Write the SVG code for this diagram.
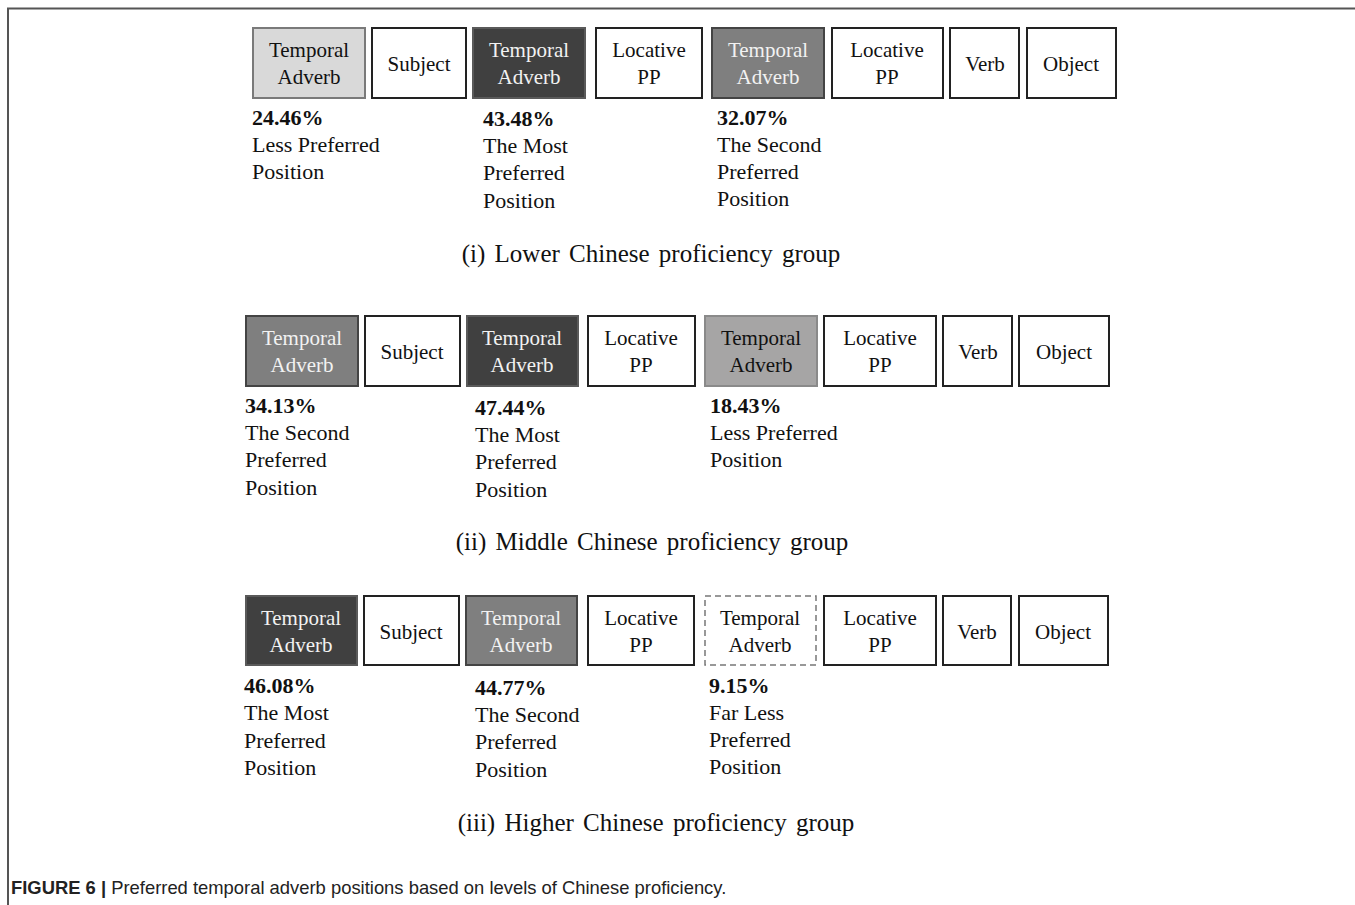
<svg xmlns="http://www.w3.org/2000/svg" width="1355" height="905" viewBox="0 0 1355 905">
<style>
.bx{fill:#fff;stroke:#222;stroke-width:2}
.lg{fill:#d9d9d9;stroke:#7a7a7a;stroke-width:2}
.mg{fill:#a6a5a5;stroke:#8a8a8a;stroke-width:2}
.gr{fill:#7f7f7f;stroke:#444;stroke-width:2}
.dk{fill:#404040;stroke:#5a5a5a;stroke-width:2}
.ds{fill:#fff;stroke:#777;stroke-width:1.5;stroke-dasharray:6 4}
text{font-family:"Liberation Serif","Times New Roman",serif;fill:#111}
.t{font-size:21px;text-anchor:middle}
.w{fill:#f2f2f2}
.p{font-size:22px;font-weight:bold}
.l{font-size:22px}
.h{font-size:25px;text-anchor:middle;word-spacing:3px}
.cap{font-family:"Liberation Sans",Arial,sans-serif;font-size:18.4px;fill:#222}
</style>
<g id="frame" fill="none" stroke="#555" stroke-width="2">
<path d="M8 905 V8.5 H1355"/>
</g>
<g id="connectors"></g>

<!-- Row 1 -->
<g id="r1-ta1"><rect class="lg" x="253" y="28" width="112" height="70"/><text class="t" x="309" y="57">Temporal</text><text class="t" x="309" y="84">Adverb</text></g>
<g id="r1-subj"><rect class="bx" x="372" y="28" width="94" height="70"/><text class="t" x="419" y="71">Subject</text></g>
<g id="r1-ta2"><rect class="dk" x="473" y="28" width="112" height="70"/><text class="t w" x="529" y="57">Temporal</text><text class="t w" x="529" y="84">Adverb</text></g>
<g id="r1-loc1"><rect class="bx" x="596" y="28" width="106" height="70"/><text class="t" x="649" y="57">Locative</text><text class="t" x="649" y="84">PP</text></g>
<g id="r1-ta3"><rect class="gr" x="712" y="28" width="112" height="70"/><text class="t w" x="768" y="57">Temporal</text><text class="t w" x="768" y="84">Adverb</text></g>
<g id="r1-loc2"><rect class="bx" x="832" y="28" width="111" height="70"/><text class="t" x="887" y="57">Locative</text><text class="t" x="887" y="84">PP</text></g>
<g id="r1-verb"><rect class="bx" x="950" y="28" width="69" height="70"/><text class="t" x="985" y="71">Verb</text></g>
<g id="r1-obj"><rect class="bx" x="1027" y="28" width="89" height="70"/><text class="t" x="1071" y="71">Object</text></g>
<g id="r1-lab1"><text class="p" x="252" y="125">24.46%</text><text class="l" x="252" y="152">Less Preferred</text><text class="l" x="252" y="179">Position</text></g>
<g id="r1-lab2"><text class="p" x="483" y="126">43.48%</text><text class="l" x="483" y="153">The Most</text><text class="l" x="483" y="180">Preferred</text><text class="l" x="483" y="208">Position</text></g>
<g id="r1-lab3"><text class="p" x="717" y="125">32.07%</text><text class="l" x="717" y="152">The Second</text><text class="l" x="717" y="179">Preferred</text><text class="l" x="717" y="206">Position</text></g>
<text class="h" x="651" y="262">(i) Lower Chinese proficiency group</text>

<!-- Row 2 -->
<g id="r2-ta1"><rect class="gr" x="246" y="316" width="112" height="70"/><text class="t w" x="302" y="345">Temporal</text><text class="t w" x="302" y="372">Adverb</text></g>
<g id="r2-subj"><rect class="bx" x="365" y="316" width="95" height="70"/><text class="t" x="412" y="359">Subject</text></g>
<g id="r2-ta2"><rect class="dk" x="467" y="316" width="111" height="70"/><text class="t w" x="522" y="345">Temporal</text><text class="t w" x="522" y="372">Adverb</text></g>
<g id="r2-loc1"><rect class="bx" x="588" y="316" width="107" height="70"/><text class="t" x="641" y="345">Locative</text><text class="t" x="641" y="372">PP</text></g>
<g id="r2-ta3"><rect class="mg" x="705" y="316" width="112" height="70"/><text class="t" x="761" y="345">Temporal</text><text class="t" x="761" y="372">Adverb</text></g>
<g id="r2-loc2"><rect class="bx" x="824" y="316" width="112" height="70"/><text class="t" x="880" y="345">Locative</text><text class="t" x="880" y="372">PP</text></g>
<g id="r2-verb"><rect class="bx" x="943" y="316" width="69" height="70"/><text class="t" x="978" y="359">Verb</text></g>
<g id="r2-obj"><rect class="bx" x="1019" y="316" width="90" height="70"/><text class="t" x="1064" y="359">Object</text></g>
<g id="r2-lab1"><text class="p" x="245" y="413">34.13%</text><text class="l" x="245" y="440">The Second</text><text class="l" x="245" y="467">Preferred</text><text class="l" x="245" y="495">Position</text></g>
<g id="r2-lab2"><text class="p" x="475" y="415">47.44%</text><text class="l" x="475" y="442">The Most</text><text class="l" x="475" y="469">Preferred</text><text class="l" x="475" y="497">Position</text></g>
<g id="r2-lab3"><text class="p" x="710" y="413">18.43%</text><text class="l" x="710" y="440">Less Preferred</text><text class="l" x="710" y="467">Position</text></g>
<text class="h" x="652" y="550">(ii) Middle Chinese proficiency group</text>

<!-- Row 3 -->
<g id="r3-ta1"><rect class="dk" x="246" y="596" width="111" height="69"/><text class="t w" x="301" y="625">Temporal</text><text class="t w" x="301" y="652">Adverb</text></g>
<g id="r3-subj"><rect class="bx" x="364" y="596" width="95" height="69"/><text class="t" x="411" y="639">Subject</text></g>
<g id="r3-ta2"><rect class="gr" x="466" y="596" width="111" height="69"/><text class="t w" x="521" y="625">Temporal</text><text class="t w" x="521" y="652">Adverb</text></g>
<g id="r3-loc1"><rect class="bx" x="588" y="596" width="106" height="69"/><text class="t" x="641" y="625">Locative</text><text class="t" x="641" y="652">PP</text></g>
<g id="r3-ta3"><rect class="ds" x="705" y="596" width="111" height="69"/><text class="t" x="760" y="625">Temporal</text><text class="t" x="760" y="652">Adverb</text></g>
<g id="r3-loc2"><rect class="bx" x="824" y="596" width="112" height="69"/><text class="t" x="880" y="625">Locative</text><text class="t" x="880" y="652">PP</text></g>
<g id="r3-verb"><rect class="bx" x="943" y="596" width="68" height="69"/><text class="t" x="977" y="639">Verb</text></g>
<g id="r3-obj"><rect class="bx" x="1019" y="596" width="89" height="69"/><text class="t" x="1063" y="639">Object</text></g>
<g id="r3-lab1"><text class="p" x="244" y="693">46.08%</text><text class="l" x="244" y="720">The Most</text><text class="l" x="244" y="748">Preferred</text><text class="l" x="244" y="775">Position</text></g>
<g id="r3-lab2"><text class="p" x="475" y="695">44.77%</text><text class="l" x="475" y="722">The Second</text><text class="l" x="475" y="749">Preferred</text><text class="l" x="475" y="777">Position</text></g>
<g id="r3-lab3"><text class="p" x="709" y="693">9.15%</text><text class="l" x="709" y="720">Far Less</text><text class="l" x="709" y="747">Preferred</text><text class="l" x="709" y="774">Position</text></g>
<text class="h" x="656" y="831">(iii) Higher Chinese proficiency group</text>

<text class="cap" x="11" y="894"><tspan font-weight="bold">FIGURE 6 |</tspan> Preferred temporal adverb positions based on levels of Chinese proficiency.</text>
</svg>
